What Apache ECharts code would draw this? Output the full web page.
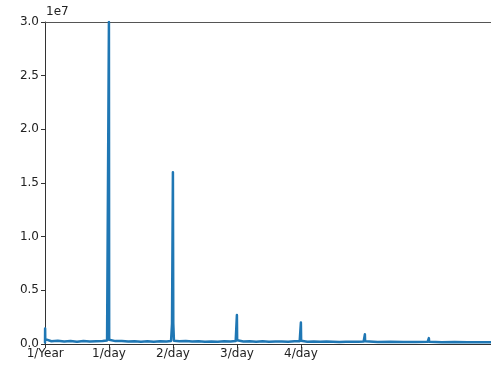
<!DOCTYPE html>
<html>
<head>
<meta charset="utf-8">
<script src="https://cdn.jsdelivr.net/npm/echarts@6/dist/echarts.min.js"></script>
<style>
  html, body { margin: 0; padding: 0; background: #fff; }
  #chart { width: 491px; height: 374px; }
</style>
</head>
<body>
<div id="chart"></div>
<script>
// Frequency (cycles per day) and spectral magnitude of the signal
const freqPerDay = [
  0.0, 0.002, 0.0027, 0.004, 0.01, 0.03, 0.1, 0.2, 0.3, 0.4, 0.5, 0.6, 0.7, 0.8, 0.9, 0.97,
  0.997, 0.999, 1.0, 1.001, 1.003, 1.03, 1.1, 1.2, 1.3, 1.4, 1.5, 1.6, 1.7, 1.8, 1.9, 1.97,
  1.985, 1.995, 1.999, 2.0, 2.001, 2.005, 2.015, 2.1, 2.2, 2.3, 2.4, 2.5, 2.6, 2.7, 2.8, 2.9, 2.98,
  2.997, 2.999, 3.0, 3.001, 3.003, 3.02, 3.1, 3.2, 3.3, 3.4, 3.5, 3.6, 3.7, 3.8, 3.9, 3.98,
  3.997, 3.999, 4.0, 4.001, 4.003, 4.02, 4.1, 4.2, 4.3, 4.4, 4.5, 4.6, 4.7, 4.8, 4.9, 4.98,
  4.997, 4.999, 5.0, 5.001, 5.003, 5.02, 5.2, 5.4, 5.6, 5.8, 5.98,
  5.997, 5.999, 6.0, 6.001, 6.003, 6.02, 6.2, 6.4, 6.6, 6.8, 6.97
];
const magnitude = [
  150000, 1450000, 1450000, 450000, 380000, 320000, 260000, 300000, 240000, 280000, 220000, 270000, 230000, 260000, 290000, 330000,
  400000, 30000000, 30000000, 30000000, 400000, 320000, 270000, 290000, 230000, 260000, 220000, 250000, 210000, 260000, 240000, 280000,
  1900000, 2000000, 16000000, 16000000, 16000000, 1900000, 300000, 260000, 280000, 230000, 250000, 210000, 240000, 220000, 260000, 230000, 270000,
  350000, 2700000, 2700000, 2700000, 350000, 280000, 240000, 260000, 220000, 250000, 210000, 230000, 240000, 220000, 250000, 260000,
  300000, 2000000, 2000000, 2000000, 300000, 250000, 220000, 240000, 200000, 230000, 210000, 190000, 220000, 200000, 210000, 230000,
  250000, 900000, 900000, 900000, 250000, 210000, 190000, 200000, 180000, 190000, 200000,
  220000, 550000, 550000, 550000, 220000, 190000, 170000, 180000, 160000, 170000, 160000
];
const xTickValues = [1 / 365.2524, 1, 2, 3, 4];
const xTickLabels = ['1/Year', '1/day', '2/day', '3/day', '4/day'];
const yTickValues = [0, 5e6, 1e7, 1.5e7, 2e7, 2.5e7, 3e7];

const points = freqPerDay.map((f, i) => [f, magnitude[i]]);
const FONT = 'DejaVu Sans';
const SPINE = '#333';

const chart = echarts.init(document.getElementById('chart'));
chart.setOption({
  animation: false,
  backgroundColor: '#fff',
  grid: { left: 45, top: 22, bottom: 30, width: 446 },
  xAxis: [{
    type: 'value', min: 0, max: 6.97,
    splitLine: { show: false },
    axisLine: { show: true, onZero: false, lineStyle: { color: SPINE, width: 1 } },
    axisTick: { show: true, length: 4, customValues: xTickValues, lineStyle: { color: SPINE } },
    axisLabel: {
      customValues: xTickValues, margin: 4, color: '#222', fontFamily: FONT, fontSize: 12,
      formatter: v => {
        let best = 0;
        xTickValues.forEach((t, i) => { if (Math.abs(t - v) < Math.abs(xTickValues[best] - v)) best = i; });
        return xTickLabels[best];
      }
    }
  }, {
    // top spine
    type: 'value', position: 'top', min: 0, max: 6.97,
    splitLine: { show: false },
    axisLine: { show: true, onZero: false, lineStyle: { color: '#555', width: 1 } },
    axisTick: { show: false },
    axisLabel: { show: false }
  }],
  yAxis: {
    type: 'value', min: 0, max: 3e7, interval: 5e6,
    splitLine: { show: false },
    axisLine: { show: true, lineStyle: { color: SPINE, width: 1 } },
    axisTick: { show: true, length: 4, customValues: yTickValues, lineStyle: { color: SPINE } },
    axisLabel: {
      customValues: yTickValues, margin: 6, color: '#222', fontFamily: FONT, fontSize: 12,
      formatter: v => (v / 1e7).toFixed(1)
    }
  },
  graphic: [{
    type: 'text', left: 46, top: 6,
    style: { text: '1e7', fill: '#222', font: '12px "DejaVu Sans"' }
  }],
  series: [{
    type: 'line',
    xAxisIndex: 0,
    data: points,
    showSymbol: false,
    symbol: 'none',
    clip: true,
    lineStyle: { color: '#1f77b4', width: 2.5, join: 'round', cap: 'round' }
  }]
});
</script>
</body>
</html>
